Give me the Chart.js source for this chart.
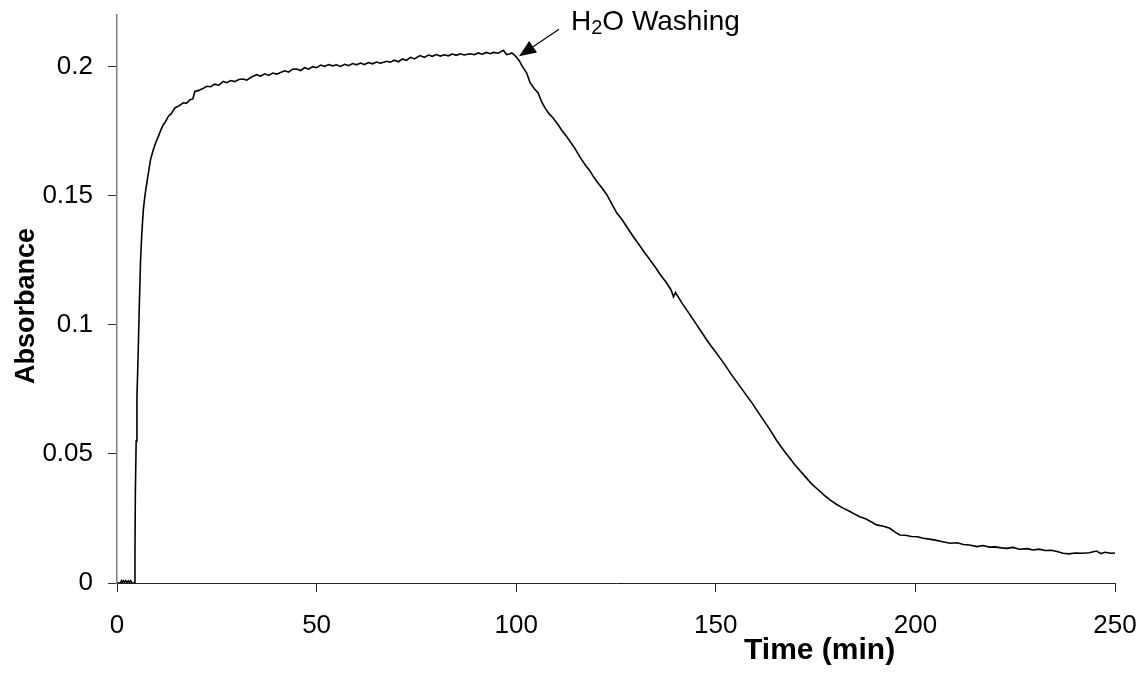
<!DOCTYPE html>
<html>
<head>
<meta charset="utf-8">
<script src="https://cdn.jsdelivr.net/npm/chart.js@4.4.1/dist/chart.umd.min.js"></script>
<style>
  html, body { margin: 0; padding: 0; background: #ffffff; }
  #wrap { width: 1144px; height: 679px; }
</style>
</head>
<body>
<div id="wrap"><canvas id="c" width="1144" height="679"></canvas></div>
<script>
// Absorbance trace: loading phase, plateau, then water washing.
const timeMin = [
  0, 0.5, 0.9, 1.1, 1.3, 1.6, 1.9, 2.2, 2.5, 2.8, 3.1, 3.4, 3.7, 4.0, 4.4,
  4.5, 4.6, 4.8, 5.0, 5.26, 5.6, 5.9, 6.2, 6.6, 7.0, 7.6, 8.4, 9.1, 9.7, 10.35,
  11.0, 11.6, 12.2, 12.85, 13.6, 14.5, 15.5, 16.6, 17.4, 18.3, 19.0, 19.5, 20.5, 21.5, 22.5,
  23.5, 24.5, 25.5, 26.6, 27.5, 28.5, 29.5, 30.5, 31.6, 32.5, 33.5, 35, 36, 37, 38,
  39, 40, 40.8, 42, 43, 44, 45, 46, 47, 48, 49, 50, 51, 52, 53,
  54, 55, 56, 57, 58, 59, 60, 61, 62, 63, 64, 65, 66, 67.6, 68.5,
  69.5, 70.5, 71.5, 72.5, 73.5, 74.5, 75.9, 77, 78, 79, 80, 81, 82, 83, 84,
  85, 86, 87, 88.4, 89.5, 90.5, 91.5, 92.5, 93.5, 94.3, 95.5, 96.8, 97.6, 98.3, 98.9,
  99.5, 100.1, 100.8, 101.5, 102.6, 103.5, 104.5, 105.5, 106.3, 107.2, 108.2, 109.3, 110.5, 111.5, 112.5,
  113.5, 114.5, 115.5, 116.4, 117.4, 118.4, 119.3, 120.3, 121.5, 122.7, 123.8, 125.2, 126.5, 127.9, 129.3,
  130.7, 132.1, 133.5, 134.9, 136.3, 137.7, 138.8, 139.4, 139.9, 140.5, 141.5, 142.7, 144, 145.3, 146.5,
  147.7, 148.9, 150.1, 151.2, 152.3, 153.7, 155.2, 156.6, 158, 159.4, 160.8, 162.2, 163.6, 165.2, 166.9,
  168.3, 169.7, 171.1, 172.5, 174, 175.5, 177, 178.6, 180.2, 181.9, 183.5, 185, 186.1, 187.5, 189,
  190.3, 192, 193.6, 195, 196.1, 197.5, 199, 200.5, 202, 203.5, 205, 206.5, 208.7, 210.5, 212,
  213.5, 215.4, 217, 218.5, 220, 221.5, 222.9, 224.5, 226, 228, 229.5, 231, 232.5, 234, 235.5,
  237, 238.5, 240, 242, 243.5, 245.4, 246.5, 247.5, 249, 250
];
const absorbance = [
  0, 0, 0, 0.0008, 0.0002, 0.0009, 0.0002, 0.0009, 0.0002, 0.0008, 0.0002, 0.0009, 0.0001, 0, 0,
  0.012, 0.035, 0.055, 0.072, 0.0864, 0.108, 0.125, 0.135, 0.1446, 0.150, 0.1562, 0.164, 0.1678, 0.1705, 0.173,
  0.1755, 0.1775, 0.1788, 0.1807, 0.1818, 0.184, 0.1848, 0.186, 0.1858, 0.1872, 0.1875, 0.1904, 0.1908, 0.1915, 0.1924,
  0.1922, 0.1932, 0.1928, 0.1943, 0.1938, 0.1946, 0.1942, 0.1950, 0.1952, 0.1948, 0.1958, 0.1969, 0.1963, 0.1972, 0.1966,
  0.1975, 0.1971, 0.1976, 0.1984, 0.1979, 0.1990, 0.1991, 0.1985, 0.1996, 0.1990, 0.2000, 0.1996, 0.2006, 0.2001, 0.2008,
  0.2003, 0.2007, 0.2001, 0.2009, 0.2004, 0.2012, 0.2007, 0.2014, 0.2008, 0.2016, 0.2011, 0.2018, 0.2013, 0.2021, 0.2017,
  0.2025, 0.2019, 0.2030, 0.2024, 0.2036, 0.2030, 0.2043, 0.2036, 0.2045, 0.2040, 0.2047, 0.2041, 0.2046, 0.2042, 0.2049,
  0.2044, 0.2050, 0.2045, 0.2050, 0.2046, 0.2053, 0.2048, 0.2055, 0.2050, 0.2055, 0.2052, 0.2063, 0.2047, 0.2049, 0.2053,
  0.2046, 0.2036, 0.2022, 0.2002, 0.1976, 0.1937, 0.1915, 0.1898, 0.1866, 0.1840, 0.1818, 0.1800, 0.1775, 0.1752, 0.1732,
  0.1710, 0.1688, 0.1662, 0.1640, 0.1617, 0.1598, 0.1575, 0.1553, 0.1530, 0.1504, 0.1472, 0.1433, 0.1408, 0.1375, 0.1342,
  0.1312, 0.1281, 0.1252, 0.1222, 0.1190, 0.1162, 0.1135, 0.1108, 0.1125, 0.1110, 0.1085, 0.1058, 0.1028, 0.0998, 0.0970,
  0.0942, 0.0916, 0.0892, 0.0868, 0.0845, 0.0812, 0.0780, 0.0750, 0.0720, 0.0690, 0.0657, 0.0625, 0.0593, 0.0553, 0.0516,
  0.0488, 0.0460, 0.0435, 0.0410, 0.0384, 0.0363, 0.0342, 0.0322, 0.0305, 0.0290, 0.0278, 0.0265, 0.0257, 0.0249, 0.0236,
  0.0225, 0.0220, 0.0212, 0.0196, 0.0186, 0.0185, 0.0180, 0.0179, 0.0173, 0.0170, 0.0166, 0.0161, 0.0154, 0.0156, 0.0149,
  0.0147, 0.0141, 0.0145, 0.0139, 0.0140, 0.0136, 0.0134, 0.0138, 0.0131, 0.0133, 0.0128, 0.0131, 0.0126, 0.0127, 0.0122,
  0.0115, 0.0113, 0.0116, 0.0115, 0.0117, 0.0124, 0.0114, 0.0119, 0.0115, 0.0116
];

const xTickValues = [0, 50, 100, 150, 200, 250];
const xTickLabels = ['0', '50', '100', '150', '200', '250'];
const yTickValues = [0, 0.05, 0.1, 0.15, 0.2];
const yTickLabels = ['0', '0.05', '0.1', '0.15', '0.2'];

const xTitle = 'Time (min)';
const yTitle = 'Absorbance';
const notePoint = { x: 100.7, y: 0.204 };   // where the washing step begins

const FONT = '"Liberation Sans", Arial, Helvetica, sans-serif';

const points = timeMin.map((t, i) => ({ x: t, y: absorbance[i] }));

// Arrow + "H2O Washing" label, and both axis titles
const notesPlugin = {
  id: 'notes',
  afterDraw(chart) {
    const { ctx, chartArea } = chart;
    const xs = chart.scales.x, ys = chart.scales.y;
    const tipX = xs.getPixelForValue(notePoint.x);
    const tipY = ys.getPixelForValue(notePoint.y);
    ctx.save();
    // arrow
    const sx = tipX + 40, sy = tipY - 27;
    const ang = Math.atan2(tipY - sy, tipX - sx);
    const headLen = 17, headHalf = 7;
    const bx = tipX - headLen * Math.cos(ang), by = tipY - headLen * Math.sin(ang);
    ctx.strokeStyle = '#000';
    ctx.lineWidth = 1.2;
    ctx.beginPath();
    ctx.moveTo(sx, sy);
    ctx.lineTo(bx, by);
    ctx.stroke();
    ctx.fillStyle = '#000';
    ctx.beginPath();
    ctx.moveTo(tipX, tipY);
    ctx.lineTo(bx + headHalf * Math.sin(ang), by - headHalf * Math.cos(ang));
    ctx.lineTo(bx - headHalf * Math.sin(ang), by + headHalf * Math.cos(ang));
    ctx.closePath();
    ctx.fill();
    // label with subscript
    let x = tipX + 52;
    const base = tipY - 26.7;
    ctx.textBaseline = 'alphabetic';
    ctx.textAlign = 'left';
    ctx.font = '28px ' + FONT;
    ctx.fillText('H', x, base);
    x += ctx.measureText('H').width;
    ctx.font = '20px ' + FONT;
    ctx.fillText('2', x, base + 4);
    x += ctx.measureText('2').width;
    ctx.font = '28px ' + FONT;
    ctx.fillText('O Washing', x, base);
    // x-axis title
    ctx.font = 'bold 30px ' + FONT;
    ctx.textAlign = 'center';
    ctx.textBaseline = 'middle';
    ctx.fillText(xTitle, chartArea.left + 0.704 * (chartArea.right - chartArea.left), 651);
    // y-axis title
    ctx.font = 'bold 27px ' + FONT;
    ctx.translate(27, (chartArea.top + chartArea.bottom) / 2 + 7);
    ctx.rotate(-Math.PI / 2);
    ctx.fillText(yTitle, 0, 0);
    ctx.restore();
  }
};

new Chart(document.getElementById('c'), {
  type: 'line',
  data: {
    datasets: [{
      data: points,
      borderColor: '#000000',
      borderWidth: 1.6,
      pointRadius: 0,
      tension: 0,
      fill: false
    }]
  },
  options: {
    responsive: false,
    animation: false,
    devicePixelRatio: 1,
    layout: { padding: { left: 0, right: 29, top: 15, bottom: 0 } },
    plugins: { legend: { display: false }, tooltip: { enabled: false } },
    scales: {
      x: {
        type: 'linear',
        min: 0, max: 250,
        afterBuildTicks: s => { s.ticks = xTickValues.map(v => ({ value: v })); },
        afterFit: s => { s.height = 96; s.paddingLeft = 0; s.paddingRight = 0; },
        ticks: {
          color: '#000',
          font: { family: FONT, size: 26 },
          padding: 18,
          maxRotation: 0,
          callback: (v) => xTickLabels[xTickValues.indexOf(v)]
        },
        grid: { drawOnChartArea: false, drawTicks: true, tickLength: 9, color: '#222', lineWidth: 1 },
        border: { color: '#222', width: 1 }
      },
      y: {
        type: 'linear',
        min: 0, max: 0.22,
        afterBuildTicks: s => { s.ticks = yTickValues.map(v => ({ value: v })); },
        afterFit: s => { s.width = 117; s.paddingTop = 0; s.paddingBottom = 0; },
        ticks: {
          color: '#000',
          font: { family: FONT, size: 26 },
          padding: 15,
          callback: (v) => yTickLabels[yTickValues.indexOf(v)]
        },
        grid: { drawOnChartArea: false, drawTicks: true, tickLength: 9, color: '#333', lineWidth: 1 },
        border: { color: '#808080', width: 1.5 }
      }
    }
  },
  plugins: [notesPlugin]
});
</script>
</body>
</html>
